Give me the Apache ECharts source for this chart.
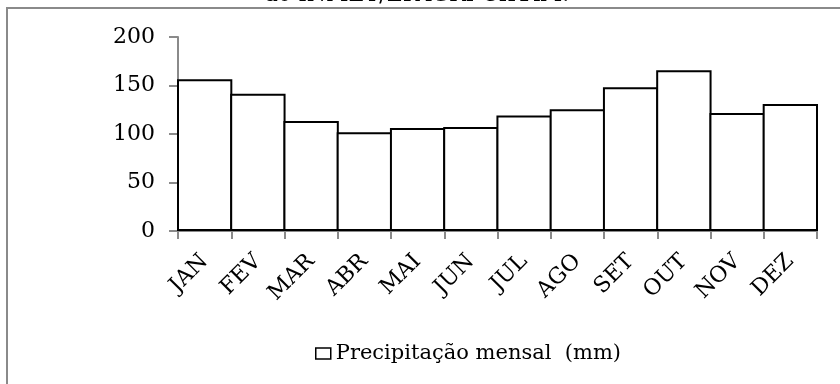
<!DOCTYPE html>
<html>
<head>
<meta charset="utf-8">
<script src="https://cdn.jsdelivr.net/npm/echarts@6/dist/echarts.min.js"></script>
<style>
html,body{margin:0;padding:0;background:#fff;}
#chart{width:840px;height:384px;}
</style>
</head>
<body>
<div id="chart"></div>
<script>
var months = ['JAN','FEV','MAR','ABR','MAI','JUN','JUL','AGO','SET','OUT','NOV','DEZ'];
var precipitacao = [156.4, 141.6, 113.4, 101.8, 106.2, 107.2, 119.0, 125.5, 148.1, 165.7, 121.6, 130.9];
var seriesName = 'Precipitação mensal  (mm)';
var captionText = 'ao INMET/EPAGRI-CIRAM.';
var yMin = 0, yMax = 200, yStep = 50;

var FONT = 'DejaVu Serif';
var chart = echarts.init(document.getElementById('chart'), null, {renderer:'canvas'});
chart.setOption({
  animation:false,
  backgroundColor:'#fff',
  graphic:[
    {type:'rect', shape:{x:7,y:8,width:1000,height:1000}, style:{fill:'none', stroke:'#8a8a8a', lineWidth:2}, silent:true},
    {type:'text', x:417, y:6, style:{text:captionText, font:'22px "DejaVu Serif"', fill:'#000', align:'center', verticalAlign:'bottom'}}
  ],
  legend:{
    data:[seriesName], left:310, top:338, itemWidth:15, itemHeight:11, itemGap:5,
    icon:'rect',
    textStyle:{fontFamily:FONT, fontSize:21, color:'#000'},
    itemStyle:{color:'#fff', borderColor:'#000', borderWidth:1.5}
  },
  grid:{left:178, right:23, top:37, bottom:153, containLabel:false},
  xAxis:{
    type:'category', data:months, boundaryGap:true,
    axisLine:{lineStyle:{color:'#8a8a8a', width:2}},
    axisTick:{show:true, length:8, lineStyle:{color:'#8a8a8a', width:2}},
    axisLabel:{rotate:45, margin:27, interval:0, fontFamily:FONT, fontSize:22, color:'#000'}
  },
  yAxis:{
    type:'value', min:yMin, max:yMax, interval:yStep,
    axisLine:{show:true, lineStyle:{color:'#8a8a8a', width:2}},
    axisTick:{show:true, length:9, lineStyle:{color:'#8a8a8a', width:2}},
    splitLine:{show:false},
    axisLabel:{margin:23, fontFamily:FONT, fontSize:22, color:'#000'}
  },
  series:[{
    name:seriesName, type:'bar', data:precipitacao, barWidth:'104%',
    itemStyle:{color:'#fff', borderColor:'#000', borderWidth:2}
  }]
});
</script>
</body>
</html>
